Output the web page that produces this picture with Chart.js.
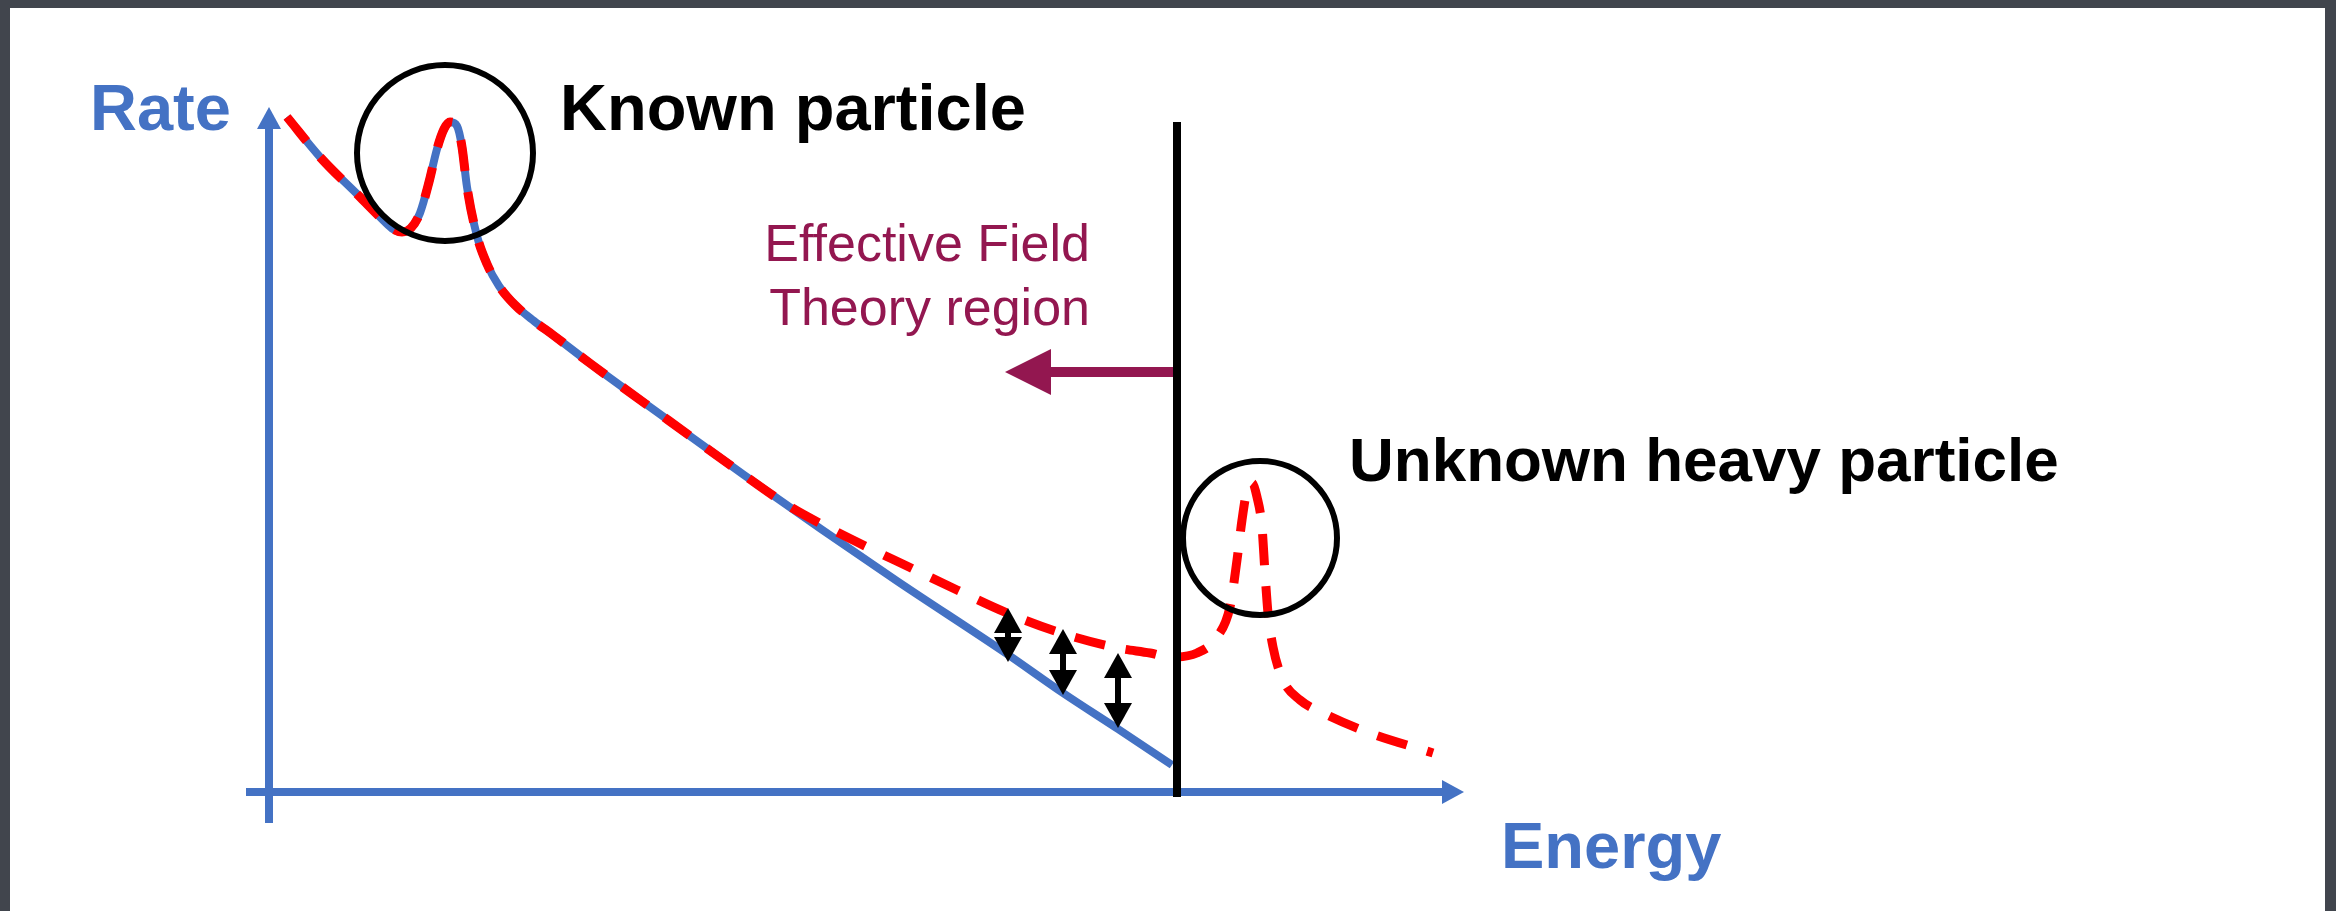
<!DOCTYPE html>
<html lang="en">
<head>
<meta charset="UTF-8">
<title>Effective Field Theory region</title>
<script src="https://cdn.jsdelivr.net/npm/chart.js"></script>
<style>
  html, body { margin: 0; padding: 0; overflow: hidden; background: #41454d; }
  .chart-box { position: relative; width: 2336px; height: 911px; }
</style>
</head>
<body>
<div class="chart-box"><canvas id="eftChart"></canvas></div>
<script>
// values (arbitrary units, energy on x, rate on y)
const smEnergy = [1.8, 5.1, 9.1, 11.4, 12.4, 13.3, 14.2, 15.1, 16.0, 16.8, 17.5, 18.1, 18.8, 19.3, 19.8, 20.8, 21.8, 23.0, 24.6, 26.5, 28.4, 32.2, 39.9, 47.5, 55.2, 62.8, 73.8, 79.4, 84.9, 90.3];
const smRate   = [67.5, 63.5, 59.5, 57.2, 56.3, 56.0, 56.4, 57.9, 61.0, 64.3, 66.3, 67.0, 66.6, 64.5, 60.5, 55.6, 52.8, 50.6, 48.7, 47.1, 45.7, 42.8, 37.2, 31.7, 26.3, 21.1, 13.8, 9.9, 6.3, 2.7];

const bsmEnergy = [1.8, 5.1, 9.1, 11.4, 12.4, 13.3, 14.2, 15.1, 16.0, 16.8, 17.5, 18.1, 18.8, 19.3, 19.8, 20.8, 21.8, 23.0, 24.6, 26.5, 28.4, 32.2, 39.9, 47.5, 52.0, 56.0, 60.0, 64.0, 68.8, 73.8, 79.2, 84.9, 88.1, 90.1, 92.8, 94.8, 96.1, 96.8, 97.3, 97.8, 98.3, 98.8, 99.3, 99.6, 99.9, 100.4, 101.4, 103.1, 105.4, 109.8, 116.4];
const bsmRate   = [67.5, 63.5, 59.5, 57.2, 56.3, 56.0, 56.4, 57.9, 61.0, 64.3, 66.3, 67.0, 66.6, 64.5, 60.5, 55.6, 52.8, 50.6, 48.7, 47.1, 45.7, 42.8, 37.2, 31.7, 28.6, 26.4, 24.4, 22.5, 20.2, 17.9, 15.9, 14.4, 13.9, 13.5, 13.9, 15.5, 18.5, 23.2, 27.2, 30.2, 30.9, 29.5, 26.5, 21.9, 17.9, 14.5, 11.2, 9.2, 7.9, 6.0, 3.9];

// deviation arrows between the two curves
const gapEnergy = [73.9, 79.4, 84.9];
const gapTop    = [18.4, 16.3, 13.9];
const gapBottom = [13.0, 9.7, 6.4];

// circled peaks
const peakEnergy = [17.6, 99.1];
const peakRate   = [63.9, 25.4];
const peakRadius = [8.8, 7.7];

// cutoff line and the EFT arrow
const cutoffEnergy = 90.8;
const cutoffRate = [-0.5, 67.0];
const eftArrowRate = 42.0;
const eftArrowTip = 73.6;

// axis extents
const axisXRange = [-2.3, 119.5];
const axisYRange = [-3.1, 68.5];

const BLUE = '#4472c4';
const RED = '#ff0000';
const MAROON = '#931750';

function arrowHead(c, tx, ty, dx, dy, len, half) {
  const bx = tx - dx * len, by = ty - dy * len;
  c.beginPath();
  c.moveTo(tx, ty);
  c.lineTo(bx - dy * half, by + dx * half);
  c.lineTo(bx + dy * half, by - dx * half);
  c.closePath();
  c.fill();
}

const sketchPlugin = {
  id: 'sketch',
  beforeDraw(chart) {
    const c = chart.ctx;
    c.save();
    c.fillStyle = '#41454d';
    c.fillRect(0, 0, chart.width, chart.height);
    c.fillStyle = '#ffffff';
    c.fillRect(10, 8, chart.width - 21, chart.height - 8);
    c.restore();
  },
  beforeDatasetsDraw(chart) {
    const c = chart.ctx, sx = chart.scales.x, sy = chart.scales.y;
    const x0 = sx.getPixelForValue(0), y0 = sy.getPixelForValue(0);
    c.save();
    c.strokeStyle = BLUE;
    c.fillStyle = BLUE;
    c.lineWidth = 8;
    // y axis
    const yTop = sy.getPixelForValue(axisYRange[1]);
    c.beginPath();
    c.moveTo(x0, sy.getPixelForValue(axisYRange[0]));
    c.lineTo(x0, yTop + 18);
    c.stroke();
    arrowHead(c, x0, yTop, 0, -1, 22, 12);
    // x axis
    const xRight = sx.getPixelForValue(axisXRange[1]);
    c.beginPath();
    c.moveTo(sx.getPixelForValue(axisXRange[0]), y0);
    c.lineTo(xRight - 18, y0);
    c.stroke();
    arrowHead(c, xRight, y0, 1, 0, 22, 12);
    c.restore();
  },
  afterDatasetsDraw(chart) {
    const c = chart.ctx, sx = chart.scales.x, sy = chart.scales.y;
    const ux = sx.getPixelForValue(1) - sx.getPixelForValue(0);
    c.save();

    // circles round the peaks
    c.strokeStyle = '#000000';
    c.lineWidth = 6;
    peakEnergy.forEach((e, i) => {
      c.beginPath();
      c.arc(sx.getPixelForValue(e), sy.getPixelForValue(peakRate[i]), peakRadius[i] * ux, 0, Math.PI * 2);
      c.stroke();
    });

    // cutoff line
    const cx = sx.getPixelForValue(cutoffEnergy);
    c.lineWidth = 8;
    c.beginPath();
    c.moveTo(cx, sy.getPixelForValue(cutoffRate[0]));
    c.lineTo(cx, sy.getPixelForValue(cutoffRate[1]));
    c.stroke();

    // EFT arrow
    const ay = sy.getPixelForValue(eftArrowRate);
    const tip = sx.getPixelForValue(eftArrowTip);
    c.strokeStyle = MAROON;
    c.fillStyle = MAROON;
    c.lineWidth = 10;
    c.beginPath();
    c.moveTo(cx - 4, ay);
    c.lineTo(tip + 40, ay);
    c.stroke();
    arrowHead(c, tip, ay, -1, 0, 46, 23);

    // deviation double arrows
    c.strokeStyle = '#000000';
    c.fillStyle = '#000000';
    c.lineWidth = 6;
    gapEnergy.forEach((e, i) => {
      const gx = sx.getPixelForValue(e);
      const t = sy.getPixelForValue(gapTop[i]);
      const b = sy.getPixelForValue(gapBottom[i]);
      c.beginPath();
      c.moveTo(gx, t + 20);
      c.lineTo(gx, b - 20);
      c.stroke();
      arrowHead(c, gx, t, 0, -1, 25, 14);
      arrowHead(c, gx, b, 0, 1, 25, 14);
    });

    // labels
    const label = (text, e, r, font, color, align) => {
      c.font = font;
      c.fillStyle = color;
      c.textAlign = align || 'left';
      c.textBaseline = 'alphabetic';
      c.fillText(text, sx.getPixelForValue(e), sy.getPixelForValue(r));
    };
    const bold = 'bold 65px "Liberation Sans", Arial, sans-serif';
    label('Rate', -17.9, 66.2, bold, BLUE);
    label('Energy', 123.2, -7.6, bold, BLUE);
    label('Known particle', 29.1, 66.2, bold, '#000000');
    label('Unknown heavy particle', 108.0, 31.1, 'bold 62px "Liberation Sans", Arial, sans-serif', '#000000');
    const thin = '52px "Liberation Sans", Arial, sans-serif';
    label('Effective Field', 82.1, 53.1, thin, MAROON, 'right');
    label('Theory region', 82.1, 46.7, thin, MAROON, 'right');

    c.restore();
  }
};

const ctx = document.getElementById('eftChart').getContext('2d');
const eftChart = new Chart(ctx, {
  type: 'line',
  data: {
    datasets: [{
      label: 'With heavy particle',
      data: bsmEnergy.map((e, i) => ({ x: e, y: bsmRate[i] })),
      borderColor: RED,
      borderWidth: 9,
      borderDash: [31, 21],
      pointRadius: 0,
      cubicInterpolationMode: 'monotone',
      fill: false
    }, {
      label: 'Known physics',
      data: smEnergy.map((e, i) => ({ x: e, y: smRate[i] })),
      borderColor: BLUE,
      borderWidth: 8,
      pointRadius: 0,
      cubicInterpolationMode: 'monotone',
      fill: false
    }]
  },
  options: {
    responsive: true,
    maintainAspectRatio: false,
    animation: false,
    layout: { padding: { left: 269, right: 867, top: 92, bottom: 119 } },
    scales: {
      x: { type: 'linear', min: 0, max: 120, display: false },
      y: { type: 'linear', min: 0, max: 70, display: false }
    },
    plugins: {
      legend: { display: false },
      tooltip: { enabled: false }
    }
  },
  plugins: [sketchPlugin]
});
</script>
</body>
</html>
